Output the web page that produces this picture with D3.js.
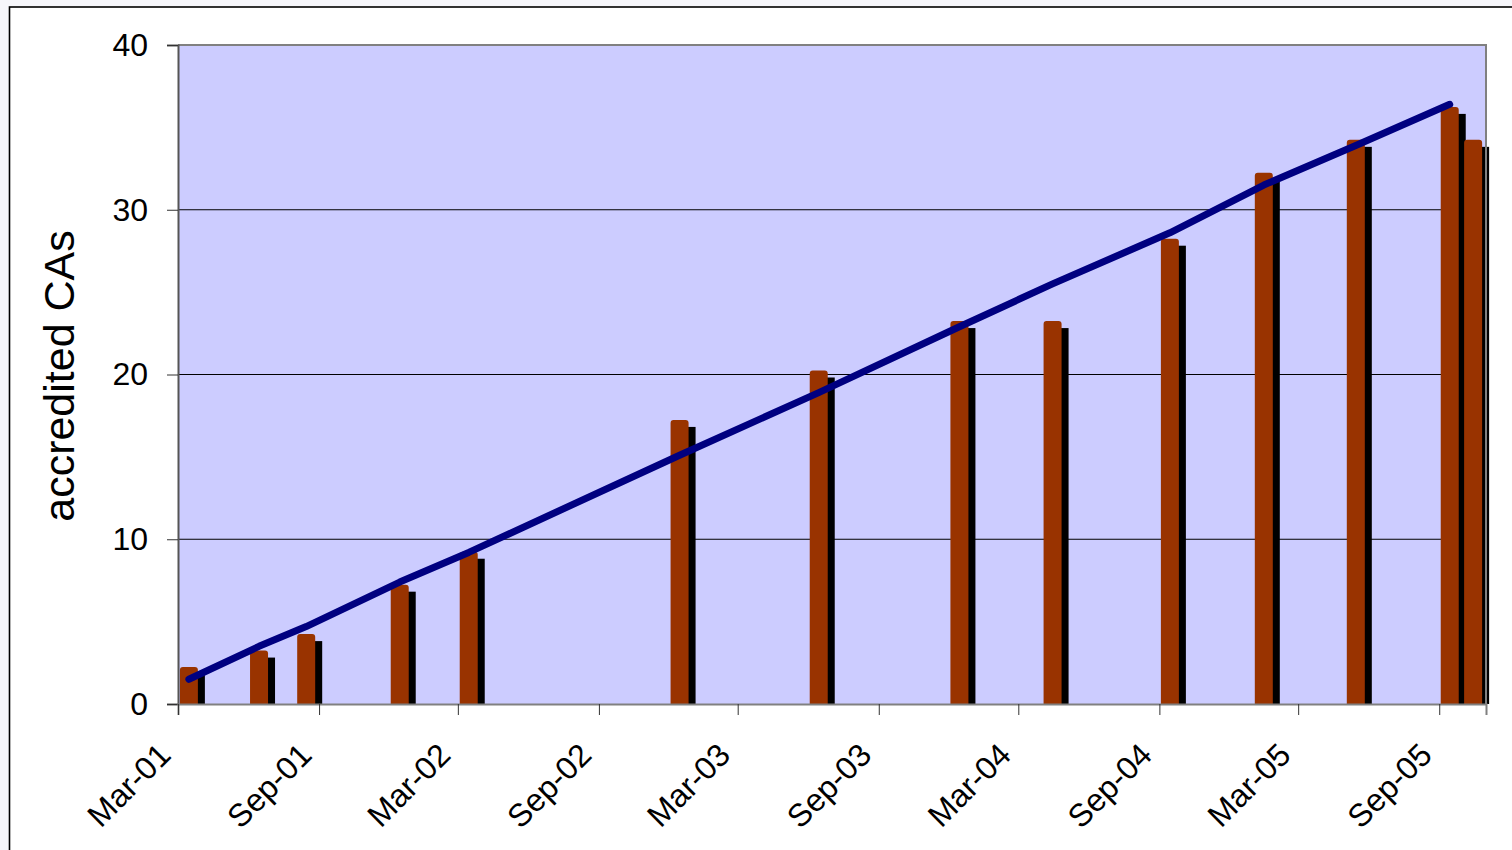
<!DOCTYPE html>
<html><head><meta charset="utf-8">
<script src="https://cdn.jsdelivr.net/npm/d3@7"></script>
<style>body{margin:0;background:#f6f6fa;} svg{display:block}</style>
</head><body><svg id="c" width="1512" height="850"></svg>
<script>
// ---- data ----
const barMonths = ["2001-03","2001-06","2001-08","2001-12","2002-03","2002-12","2003-06","2003-12","2004-04","2004-09","2005-01","2005-05","2005-09","2005-10"];
const accredited = [2,3,4,7,9,17,20,23,23,28,32,34,36,34];
const trendMonths = ["2001-03","2001-06","2001-08","2001-12","2002-03","2002-12","2003-06","2003-12","2004-04","2004-09","2005-01","2005-05","2005-09"];
const trendValues = [1.5,3.5,4.7,7.4,9.2,15.1,18.9,22.9,25.5,28.6,31.5,33.9,36.4];
const yTicks = [0,10,20,30,40];
const xTickLabels = ["Mar-01","Sep-01","Mar-02","Sep-02","Mar-03","Sep-03","Mar-04","Sep-04","Mar-05","Sep-05"];
const yTitle = "accredited CAs";

// ---- layout ----
const svg = d3.select("#c");
const L = 178, R = 1486, T = 45, B = 704;
const pm = d3.timeParse("%Y-%m");
const pt = d3.timeParse("%b-%y");
const x = d3.scaleTime().domain([new Date(2001,2,1), new Date(2005,10,1)]).range([L, R]);
const y = d3.scaleLinear().domain([0,40]).range([B, T]);
const mid = d => (x(d) + x(d3.timeMonth.offset(d,1))) / 2;
const font = "'Liberation Sans', Arial, sans-serif";

// page frame
svg.append("rect").attr("x",0).attr("y",0).attr("width",1512).attr("height",850).attr("fill","#f6f6fa");
svg.append("rect").attr("x",9.5).attr("y",7).attr("width",1520).attr("height",900)
  .attr("fill","#ffffff").attr("stroke","#000").attr("stroke-width",1.6);

// plot area
svg.append("rect").attr("x",L).attr("y",T).attr("width",R-L).attr("height",B-T).attr("fill","#CCCCFF");

// gridlines
svg.append("g").selectAll("line").data(yTicks.filter(v=>v>0 && v<40)).join("line")
  .attr("x1",L).attr("x2",R).attr("y1",d=>y(d)).attr("y2",d=>y(d))
  .attr("stroke","#000").attr("stroke-width",1);

// bars
const bars = barMonths.map((m,i)=>({d:pm(m), v:accredited[i]}));
const bw = 18;
svg.append("g").selectAll("rect").data(bars).join("rect")
  .attr("x",d=>mid(d.d)-bw/2+6).attr("y",d=>y(d.v)+3)
  .attr("width",bw).attr("height",d=>B-y(d.v)-3).attr("fill","#000");
svg.append("g").selectAll("path").data(bars).join("path")
  .attr("d",d=>{
    const x0 = mid(d.d)-bw/2-1, x1 = x0+bw, t = y(d.v)-4, r = 3;
    return `M${x0},${B}V${t+r}Q${x0},${t} ${x0+r},${t}H${x1-r}Q${x1},${t} ${x1},${t+r}V${B}Z`;
  })
  .attr("fill","#993300");

// trend line
const tl = trendMonths.map((m,i)=>({d:pm(m), v:trendValues[i]}));
svg.append("path").datum(tl)
  .attr("d", d3.line().x(d=>mid(d.d)-1).y(d=>y(d.v)))
  .attr("fill","none").attr("stroke","#000080").attr("stroke-width",7)
  .attr("stroke-linecap","round").attr("stroke-linejoin","round");

// plot border top/right
svg.append("path").attr("d",`M${L},${T}H${R}V${B}`).attr("fill","none")
  .attr("stroke","#808080").attr("stroke-width",2);

// y axis
const ya = svg.append("g").attr("transform",`translate(${L},0)`)
  .call(d3.axisLeft(y).tickValues(yTicks).tickSize(11).tickPadding(19).tickFormat(d3.format("d")));
ya.select(".domain").attr("stroke","#555").attr("stroke-width",2);
ya.selectAll(".tick line").attr("stroke","#333");
ya.selectAll("text").attr("font-family",font).attr("font-size",32).attr("fill","#000");

// x axis
const xa = svg.append("g").attr("transform",`translate(0,${B})`)
  .call(d3.axisBottom(x).tickValues(xTickLabels.map(pt)).tickSize(11).tickFormat(d3.timeFormat("%b-%y")));
xa.select(".domain").attr("stroke","#808080").attr("stroke-width",2);
xa.selectAll(".tick line").attr("stroke","#333");
xa.selectAll("text").attr("font-family",font).attr("font-size",32).attr("fill","#000")
  .attr("text-anchor","end").attr("dy",0).attr("y",0)
  .attr("transform","translate(-6,53) rotate(-45)");

// y title
svg.append("text").attr("transform","translate(74,376) rotate(-90)")
  .attr("text-anchor","middle").attr("font-family",font).attr("font-size",43)
  .attr("fill","#000").text(yTitle);
</script></body></html>
